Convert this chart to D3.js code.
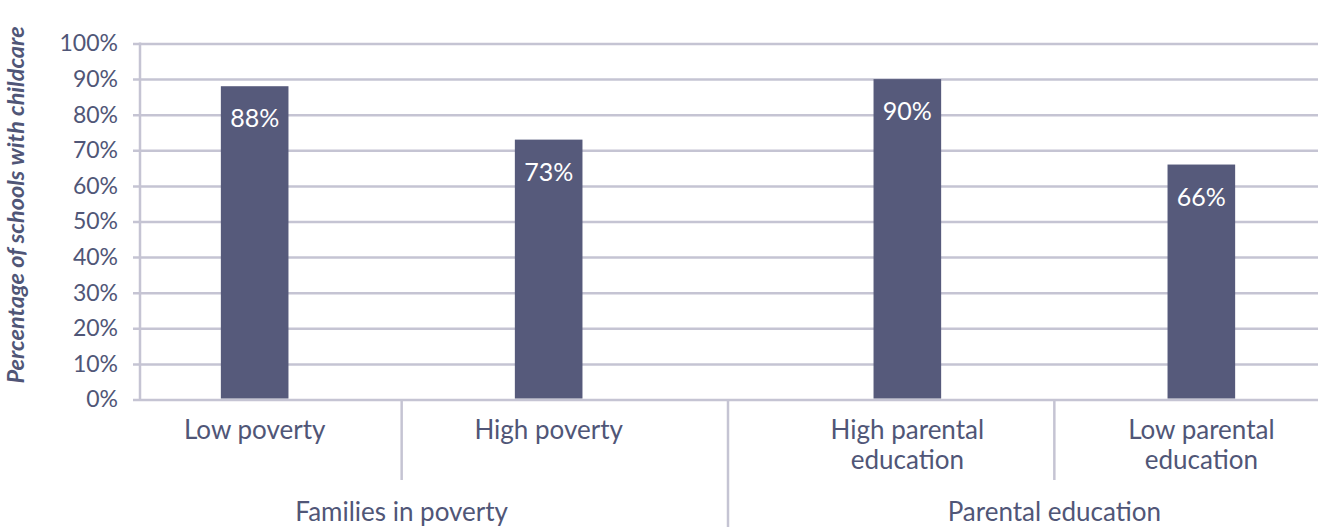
<!DOCTYPE html>
<html>
<head>
<meta charset="utf-8">
<title>Schools with childcare</title>
<script src="https://cdnjs.cloudflare.com/ajax/libs/d3/7.8.5/d3.min.js"></script>
<style>
  body { margin: 0; background: #fff; }
  svg { display: block; font-family: Lato, "Open Sans", sans-serif; }
</style>
</head>
<body>
<svg id="chart" width="1320" height="527"></svg>
<script>
// data
var categories = [["Low poverty"], ["High poverty"], ["High parental", "education"], ["Low parental", "education"]];
var groups = ["Families in poverty", "Parental education"];
var groupOf = [0, 0, 1, 1];
var values = [0.88, 0.73, 0.90, 0.66];
var yTicks = [0, 0.1, 0.2, 0.3, 0.4, 0.5, 0.6, 0.7, 0.8, 0.9, 1];

var barColor = "#565a7b",
    textColor = "#505677",
    gridColor = "#c5c4d3";

var plotL = 140, plotR = 1316, plotT = 43.5, plotB = 399.5;
var groupGap = 0.22;   // extra space between the two groups, in bar steps

function pos(i) { return i + groupOf[i] * groupGap; }

var x = d3.scaleLinear()
    .domain([-0.39, categories.length - 1 + groupGap + 0.39])
    .range([plotL, plotR]);
var y = d3.scaleLinear().domain([0, 1]).range([plotB, plotT]);
var barW = (x(1) - x(0)) * 0.23;

var svg = d3.select("#chart");

// y axis + gridlines
var yAxis = d3.axisLeft(y)
    .tickValues(yTicks)
    .tickFormat(d3.format(".0%"))
    .tickSize(-(plotR + 2 - plotL))
    .tickPadding(22);

var gy = svg.append("g").attr("transform", "translate(" + plotL + ",0)").call(yAxis);
gy.select(".domain").remove();
gy.selectAll(".tick line")
    .attr("x1", -7)
    .attr("stroke", gridColor)
    .attr("stroke-width", 2.5);
gy.selectAll(".tick text")
    .attr("fill", textColor)
    .style("font-size", "23px")
    .style("font-family", "Lato, 'Open Sans', sans-serif");

svg.append("line")
    .attr("x1", plotL).attr("x2", plotL)
    .attr("y1", y(1) - 1).attr("y2", y(0))
    .attr("stroke", gridColor).attr("stroke-width", 2.5);

// bars
svg.selectAll(".bar")
    .data(values)
    .enter().append("rect")
    .attr("class", "bar")
    .attr("x", function(d, i) { return x(pos(i)) - barW / 2; })
    .attr("width", barW)
    .attr("y", function(d) { return y(d); })
    .attr("height", function(d) { return y(0) - y(d) - 1; })
    .attr("fill", barColor);

svg.selectAll(".barlabel")
    .data(values)
    .enter().append("text")
    .attr("class", "barlabel")
    .attr("x", function(d, i) { return x(pos(i)); })
    .attr("y", function(d) { return y(d) + 41; })
    .attr("text-anchor", "middle")
    .attr("fill", "#fff")
    .style("font-size", "25px")
    .text(function(d) { return d3.format(".0%")(d); });

// dividers below the axis
for (var i = 0; i < categories.length - 1; i++) {
    var same = groupOf[i] === groupOf[i + 1];
    var mx = x((pos(i) + pos(i + 1)) / 2);
    svg.append("line")
        .attr("x1", mx).attr("x2", mx)
        .attr("y1", y(0)).attr("y2", same ? 480 : 527)
        .attr("stroke", gridColor).attr("stroke-width", 2.5);
}

// category labels
var cl = svg.selectAll(".catlabel")
    .data(categories)
    .enter().append("text")
    .attr("class", "catlabel")
    .attr("text-anchor", "middle")
    .attr("fill", textColor)
    .style("font-size", "26px")
    .attr("transform", function(d, i) { return "translate(" + x(pos(i)) + ",439)"; });
cl.selectAll("tspan")
    .data(function(d) { return d; })
    .enter().append("tspan")
    .attr("x", 0)
    .attr("dy", function(d, j) { return j ? 30 : 0; })
    .text(function(d) { return d; });

// group labels
svg.selectAll(".grouplabel")
    .data(groups)
    .enter().append("text")
    .attr("class", "grouplabel")
    .attr("text-anchor", "middle")
    .attr("fill", textColor)
    .style("font-size", "26px")
    .attr("x", function(g, gi) {
        var p = d3.range(categories.length).filter(function(i) { return groupOf[i] === gi; }).map(pos);
        return x(d3.mean(p));
    })
    .attr("y", 521)
    .text(function(d) { return d; });

// y title
svg.append("text")
    .attr("transform", "translate(24,205) rotate(-90)")
    .attr("text-anchor", "middle")
    .attr("fill", textColor)
    .style("font-size", "23.5px")
    .style("font-weight", "bold")
    .style("font-style", "italic")
    .text("Percentage of schools with childcare");
</script>
</body>
</html>
